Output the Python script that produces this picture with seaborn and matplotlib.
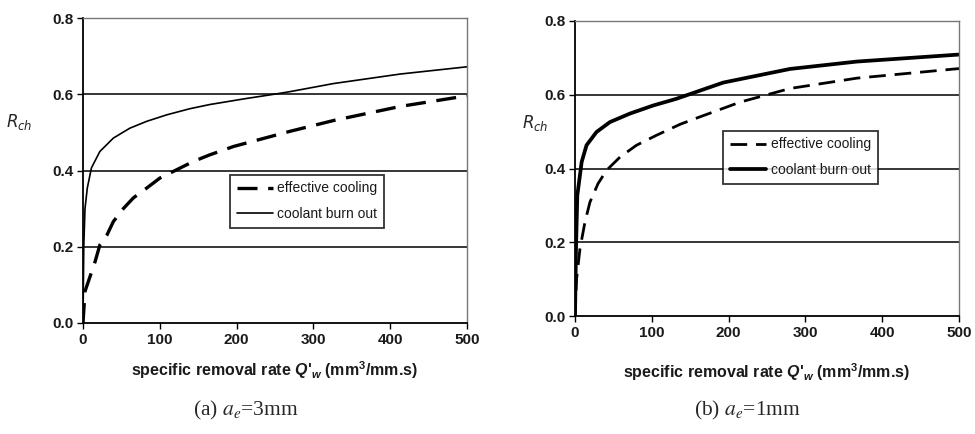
import numpy as np
import pandas as pd
import matplotlib
matplotlib.use("Agg")
import matplotlib.pyplot as plt
import seaborn as sns

# ---- data ----
# (a) ae = 3 mm
qa_burn = [0, 1, 2.6, 5.6, 11, 22, 39.5, 61, 83, 109, 139, 165, 210, 252, 270, 326, 413, 500]
ra_burn = [0.0, 0.2, 0.30, 0.354, 0.407, 0.45, 0.485, 0.511, 0.529, 0.546, 0.562, 0.573, 0.588, 0.601, 0.607, 0.628, 0.653, 0.672]
qa_eff = [0, 2.6, 15.6, 22, 31, 39.5, 52.5, 65.5, 83, 100, 122, 144, 165, 196, 270, 326, 413, 500]
ra_eff = [0.0, 0.083, 0.16, 0.205, 0.23, 0.266, 0.30, 0.328, 0.354, 0.38, 0.402, 0.424, 0.441, 0.463, 0.503, 0.531, 0.568, 0.596]

# (b) ae = 1 mm
qb_burn = [0, 1.3, 3, 8.7, 15, 28, 45.6, 71.6, 102, 132, 150, 193, 280, 367, 500]
rb_burn = [0.0, 0.183, 0.327, 0.418, 0.463, 0.499, 0.526, 0.549, 0.571, 0.589, 0.602, 0.633, 0.670, 0.690, 0.709]
qb_eff = [0, 2, 6.5, 13, 19.5, 30, 41, 58.6, 80, 106, 137, 160, 215, 280, 367, 500]
rb_eff = [0.0, 0.1, 0.183, 0.255, 0.309, 0.359, 0.395, 0.431, 0.463, 0.49, 0.52, 0.538, 0.58, 0.617, 0.645, 0.671]

series_names = ["effective cooling", "coolant burn out"]
captions = ["(a) $a_e$=3mm", "(b) $a_e$=1mm"]
yticks = [0.0, 0.2, 0.4, 0.6, 0.8]
xticks = [0, 100, 200, 300, 400, 500]

sns.set_theme(style="white")
plt.rcParams["font.family"] = ["Liberation Sans", "DejaVu Sans"]
plt.rcParams["mathtext.fontset"] = "custom"
plt.rcParams["mathtext.rm"] = "Liberation Sans:bold"
plt.rcParams["mathtext.it"] = "Liberation Sans:italic:bold"

def frame(q_eff, r_eff, q_burn, r_burn):
    d1 = pd.DataFrame({"Q": q_eff, "R": r_eff, "s": series_names[0]})
    d2 = pd.DataFrame({"Q": q_burn, "R": r_burn, "s": series_names[1]})
    return pd.concat([d1, d2], ignore_index=True)

W, H = 975, 434
fig = plt.figure(figsize=(W / 100, H / 100), dpi=100)
axA = fig.add_axes([83 / W, 1 - 323 / H, 384 / W, 305 / H])
axB = fig.add_axes([575 / W, 1 - 316 / H, 384 / W, 295 / H])

configs = [
    dict(ax=axA, df=frame(qa_eff, ra_eff, qa_burn, ra_burn),
         lws={series_names[0]: 2.4, series_names[1]: 1.2},
         leg=(234, 172, 146, 58), cap=captions[0], capx=246,
         ylab=(-0.165, 0.66), xlab_y=370),
    dict(ax=axB, df=frame(qb_eff, rb_eff, qb_burn, rb_burn),
         lws={series_names[0]: 2.0, series_names[1]: 2.7},
         leg=(723, 126, 155, 62), cap=captions[1], capx=747,
         ylab=(-0.104, 0.654), xlab_y=372),
]

for c in configs:
    ax, df, lws = c["ax"], c["df"], c["lws"]
    for name, dash in zip(series_names, [(6, 3.2), ()]):
        sub = df[df["s"] == name]
        sns.lineplot(data=sub, x="Q", y="R", ax=ax, color="black",
                     linewidth=lws[name], label=name, dashes=False,
                     estimator=None, sort=False)
        ln = ax.lines[-1]
        ln.set_solid_joinstyle("round")
        if dash:
            ln.set_dashes(dash)
    ax.set_xlim(0, 500)
    ax.set_ylim(0, 0.8)
    ax.set_xticks(xticks)
    ax.set_yticks(yticks)
    ax.set_yticklabels([f"{v:.1f}" for v in yticks])
    for v in yticks[1:-1]:
        ax.axhline(v, color="black", linewidth=1.1, zorder=0)
    ax.tick_params(axis="both", direction="out", length=4, width=1, color="black",
                   labelsize=11, bottom=True, left=True, pad=3)
    for lab in ax.get_xticklabels() + ax.get_yticklabels():
        lab.set_fontweight("bold")
        lab.set_color("#1a1a1a")
    for s in ("left", "bottom"):
        ax.spines[s].set_color("black")
        ax.spines[s].set_linewidth(1.3)
    for s in ("top", "right"):
        ax.spines[s].set_color("#777777")
        ax.spines[s].set_linewidth(1.0)
    ax.set_xlabel("")
    ax.set_ylabel("$R_{ch}$", fontsize=12, rotation=0, va="center", ha="center",
                  family=["Liberation Sans"])
    ax.yaxis.label.set_math_fontfamily("dejavusans")
    ax.yaxis.set_label_coords(*c["ylab"])
    pos = ax.get_position()
    cx = pos.x0 + pos.width / 2
    fig.text(cx, 1 - c["xlab_y"] / H,
             "specific removal rate $Q$'$_w$ (mm$^3$/mm.s)",
             ha="center", va="center", fontsize=11.5, fontweight="bold",
             color="#1a1a1a")
    lx, ly, lw, lh = c["leg"]
    bbox = ((lx - pos.x0 * W) / (pos.width * W),
            1 - (ly + lh - (1 - pos.y1) * H) / (pos.height * H),
            lw / (pos.width * W), lh / (pos.height * H))
    leg = ax.legend(loc="center", bbox_to_anchor=bbox, frameon=True, fancybox=False,
                    fontsize=10, handlelength=2.6, handletextpad=0.3, borderpad=0.5,
                    labelspacing=0.8, borderaxespad=0)
    leg.get_frame().set_edgecolor("black")
    leg.get_frame().set_linewidth(1.3)
    for t in leg.get_texts():
        t.set_color("#1a1a1a")
    fig.text(c["capx"] / W, 1 - 410 / H, c["cap"], ha="center", va="center",
             fontsize=15.5, family=["Liberation Serif"], math_fontfamily="stix")

fig.savefig("out.png", dpi=100, facecolor="white")
